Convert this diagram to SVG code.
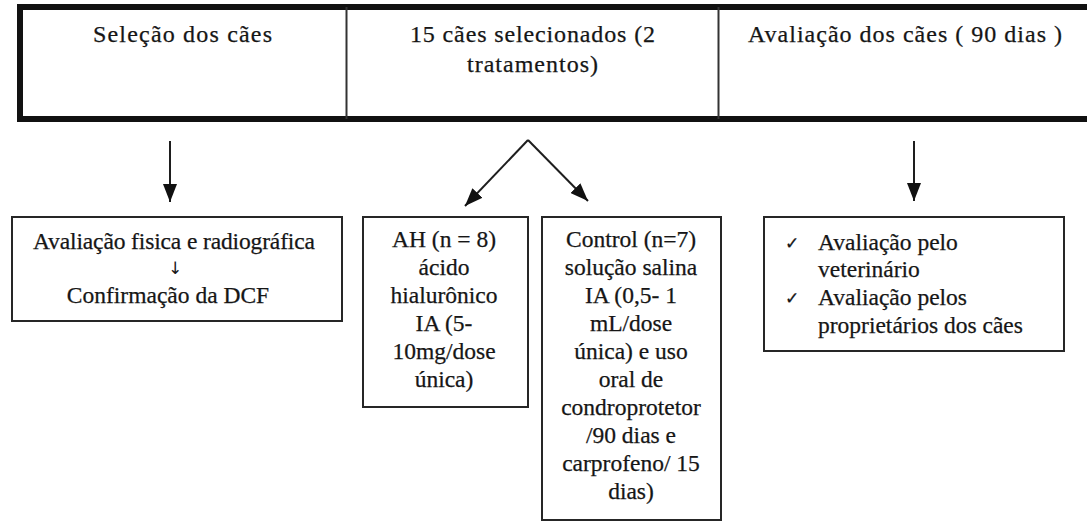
<svg xmlns="http://www.w3.org/2000/svg" width="1087" height="522" viewBox="0 0 1087 522">
<style>
  .t { fill: #161616; stroke: #161616; stroke-width: 0.25; }
  .h { font-size: 24px; text-anchor: middle; }
  .b { font-size: 23.5px; text-anchor: middle; }
  .l { font-size: 23.5px; }
  .box { fill: #ffffff; stroke: #262626; stroke-width: 2; }
  .conn { stroke: #1e1e1e; stroke-width: 2; fill: none; }
  .chk { font-size: 17px; }
</style>
<defs>
  <marker id="ah" viewBox="0 0 18 14" refX="18" refY="7" markerWidth="18" markerHeight="14" markerUnits="userSpaceOnUse" orient="auto">
    <path d="M0,0 L18,7 L0,14 z" fill="#111"/>
  </marker>
</defs>
<rect width="1087" height="522" fill="#ffffff"/>

<g id="header">
  <rect x="20" y="7" width="1080" height="112" fill="none" stroke="#111" stroke-width="6"/>
  <line x1="346.5" y1="7" x2="346.5" y2="119" stroke="#333" stroke-width="2"/>
  <line x1="718.5" y1="7" x2="718.5" y2="119" stroke="#333" stroke-width="2"/>
</g>
<g font-family="'Liberation Serif', 'Times New Roman', serif" class="t">
<g id="h1">
  <text class="h" x="182.5" y="42" textLength="179" lengthAdjust="spacing">Seleção  dos cães</text>
</g>
<g id="h2">
  <text class="h" x="532.5" y="42" textLength="245" lengthAdjust="spacing">15  cães selecionados (2</text>
  <text class="h" x="532.5" y="72" textLength="131" lengthAdjust="spacing">tratamentos)</text>
</g>
<g id="h3">
  <text class="h" x="905" y="42" textLength="314" lengthAdjust="spacing">Avaliação  dos cães ( 90 dias )</text>
</g>

<g id="box1">
  <rect class="box" x="12" y="217" width="330" height="104"/>
  <text class="b" x="174" y="249" textLength="282" lengthAdjust="spacing">Avaliação  fisica e radiográfica</text>
  <text class="b chk" x="175" y="274" font-family="'DejaVu Sans', sans-serif" stroke-width="0">↓</text>
  <text class="b" x="168" y="303">Confirmação  da DCF</text>
</g>

<g id="boxAH">
  <rect class="box" x="363" y="217" width="165" height="190"/>
  <text class="b" x="444" y="247">AH (n = 8)</text>
  <text class="b" x="444" y="275">ácido</text>
  <text class="b" x="444" y="303">hialurônico</text>
  <text class="b" x="444" y="331">IA (5-</text>
  <text class="b" x="444" y="359">10mg/dose</text>
  <text class="b" x="444" y="387">única)</text>
</g>

<g id="boxControl">
  <rect class="box" x="542" y="217" width="179" height="303"/>
  <text class="b" x="631" y="247">Control (n=7)</text>
  <text class="b" x="631" y="275">solução  salina</text>
  <text class="b" x="631" y="303">IA (0,5- 1</text>
  <text class="b" x="631" y="331">mL/dose</text>
  <text class="b" x="631" y="359">única) e uso</text>
  <text class="b" x="631" y="387">oral de</text>
  <text class="b" x="631" y="415">condroprotetor</text>
  <text class="b" x="631" y="443">/90 dias e</text>
  <text class="b" x="631" y="471">carprofeno/ 15</text>
  <text class="b" x="631" y="499">dias)</text>
</g>

<g id="boxEval">
  <rect class="box" x="764" y="217" width="300" height="134"/>
  <text class="chk" x="785" y="249" font-family="'DejaVu Sans', sans-serif">✓</text>
  <text class="l" x="818" y="250">Avaliação  pelo</text>
  <text class="l" x="818" y="277">veterinário</text>
  <text class="chk" x="785" y="304" font-family="'DejaVu Sans', sans-serif">✓</text>
  <text class="l" x="818" y="305">Avaliação  pelos</text>
  <text class="l" x="818" y="333">proprietários dos cães</text>
</g>
</g>

<g id="connectors">
  <line class="conn" x1="170" y1="141" x2="170" y2="202" marker-end="url(#ah)"/>
  <line class="conn" x1="528" y1="140" x2="465" y2="206" marker-end="url(#ah)"/>
  <line class="conn" x1="528" y1="140" x2="588" y2="201" marker-end="url(#ah)"/>
  <line class="conn" x1="914" y1="141" x2="914" y2="201" marker-end="url(#ah)"/>
</g>
</svg>
